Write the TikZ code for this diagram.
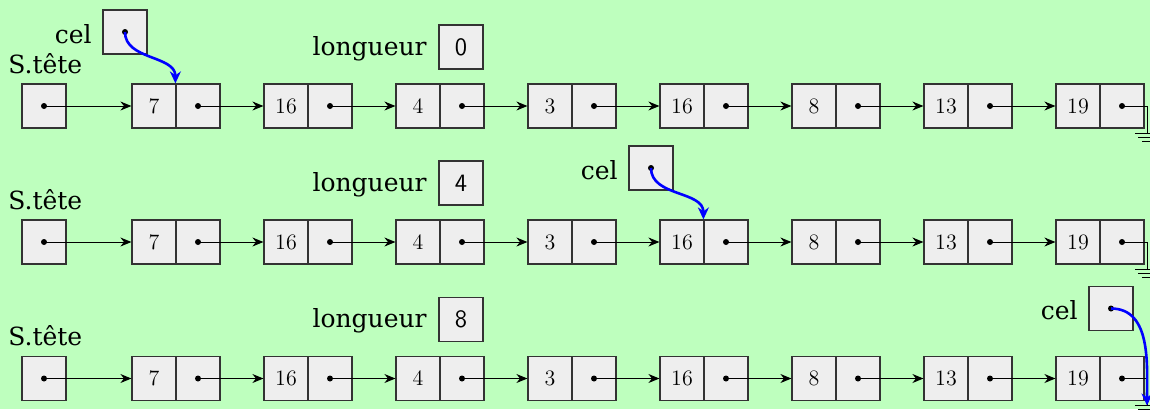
\documentclass[tikz,border=0pt]{standalone}
\usepackage{fontspec}
\newfontfamily\labfont{DejaVu Serif}
\usetikzlibrary{arrows.meta}
\definecolor{bg}{RGB}{190,255,190}
\definecolor{boxfill}{RGB}{238,238,238}
\tikzset{
  cellbox/.style={draw=black!80, fill=boxfill, minimum width=22pt, minimum height=22pt, inner sep=0pt, line width=0.6pt, font=\fontsize{11}{13}\selectfont},
  ptrdot/.style={circle, fill=black, inner sep=0pt, minimum size=3pt},
  link/.style={-{Stealth[length=5.5pt,width=4.5pt]}, line width=0.5pt},
  celarrow/.style={blue, line width=1.3pt, -{Stealth[length=6pt,width=5.5pt]}},
  lab/.style={font=\labfont\fontsize{12.5}{14}\selectfont, inner sep=0pt},
  nullline/.style={line width=0.5pt},
}
\begin{document}
\begin{tikzpicture}[x=0.5pt,y=-0.5pt]
\fill[bg] (0,0) rectangle (1150,409);
\useasboundingbox (0,0) rectangle (1150,409);
\begin{scope}
\clip (0,0) rectangle (1150,409);
\foreach \r/\y/\L in {1/106/0, 2/242/4, 3/378.5/8} {
  \node[lab, anchor=base west] (st\r) at (8,\y-33) {S.tête};
  \node[cellbox] (h\r) at (44,\y) {};
  \node[ptrdot] (hd\r) at (h\r.center) {};
  \foreach \v [count=\i] in {7,16,4,3,16,8,13,19} {
    \node[cellbox] (v\r-\i) at ({132*\i+22}, \y) {\v};
    \node[cellbox] (p\r-\i) at ({132*\i+66}, \y) {};
    \node[ptrdot] (d\r-\i) at (p\r-\i.center) {};
  }
  \draw[link] (hd\r.center) -- (v\r-1.west);
  \foreach \i [evaluate=\i as \j using int(\i+1)] in {1,...,7}
    \draw[link] (d\r-\i.center) -- (v\r-\j.west);
  \coordinate (n\r) at (1147,\y);
  \coordinate (g\r) at (1147,\y+27);
  \draw[nullline] (d\r-8.center) -- (n\r) -- (g\r);
  \draw[nullline] ([xshift=-6pt]g\r) -- ([xshift=6pt]g\r);
  \draw[nullline] ([xshift=-4.5pt,yshift=-2pt]g\r) -- ([xshift=4.5pt,yshift=-2pt]g\r);
  \draw[nullline] ([xshift=-2.5pt,yshift=-4pt]g\r) -- ([xshift=2.5pt,yshift=-4pt]g\r);
  \node[lab, anchor=base east] (lg\r) at (427,\y-51) {longueur};
  \node[cellbox, font=\sffamily\fontsize{12.5}{14}\selectfont] (L\r) at (461,\y-59) {\L};
}
% cel pointers
\node[cellbox] (c1) at (125,32) {};
\node[ptrdot] (cd1) at (c1.center) {};
\node[lab, anchor=base east] (cl1) at (92,43) {cel};
\draw[celarrow] (cd1.center) to[out=-90,in=90] (p1-1.north west);

\node[cellbox] (c2) at (651,168) {};
\node[ptrdot] (cd2) at (c2.center) {};
\node[lab, anchor=base east] (cl2) at (618,179) {cel};
\draw[celarrow] (cd2.center) to[out=-90,in=90] (p2-5.north west);

\node[cellbox] (c3) at (1111,308.5) {};
\node[ptrdot] (cd3) at (c3.center) {};
\node[lab, anchor=base east] (cl3) at (1078,319.5) {cel};
\draw[celarrow] (cd3.center) to[out=0,in=90] (g3);
\end{scope}
\end{tikzpicture}
\end{document}
